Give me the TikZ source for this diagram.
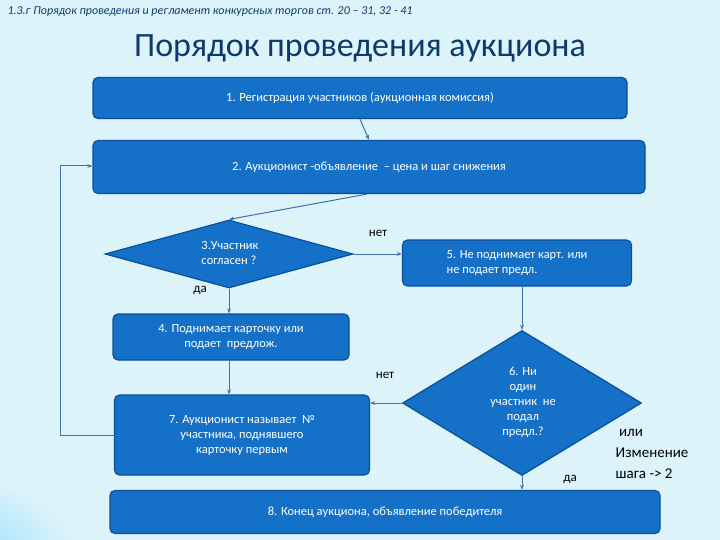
\documentclass[tikz,border=0pt]{standalone}
\usepackage{fontspec}
\setmainfont{Carlito}
\usetikzlibrary{shapes.geometric,arrows.meta}
\definecolor{bg}{HTML}{DDF3FA}
\definecolor{boxf}{HTML}{1570C8}
\definecolor{boxd}{HTML}{0B4F9A}
\definecolor{ttl}{HTML}{0E3A6A}
\begin{document}
\begin{tikzpicture}[x=1pt,y=-1pt,
  blk/.style={draw=boxd,line width=1.2pt,fill=boxf,rounded corners=5pt,text=white,font=\fontsize{12.5}{15}\selectfont,align=center,inner sep=0pt},
  dia/.style={diamond,draw=boxd,line width=1.2pt,fill=boxf,text=white,font=\fontsize{12.5}{15}\selectfont,align=center,inner sep=0pt},
  con/.style={draw=boxd!80,line width=1pt},
  arr/.style={con,-{Stealth[length=5pt]}},
  lab/.style={font=\fontsize{13}{15}\selectfont,text=black}]
\useasboundingbox (0,0) rectangle (720,540);
\shade[top color=bg,bottom color=bg] (0,0) rectangle (720,540);
\shade[inner color=blue!30!cyan!50,outer color=bg] (-80,560) ellipse (160 and 90);
\node[anchor=west,font=\itshape\fontsize{12}{14}\selectfont,text=ttl] (hdr) at (4,12) {1.3.г  Порядок проведения и регламент конкурсных торгов ст. 20 – 31, 32 - 41};
\node[font=\fontsize{34}{38}\selectfont,text=ttl] (title) at (360,48) {Порядок проведения аукциона};
\node[blk,minimum width=534,minimum height=41] (b1) at (360,98) {1. Регистрация участников (аукционная комиссия)};
\node[blk,minimum width=552,minimum height=53] (b2) at (369,167) {2. Аукционист -объявление \ – цена и шаг снижения};
\node[dia,minimum width=248,minimum height=68] (d3) at (229,254) {};
\node[font=\fontsize{12.5}{15}\selectfont,text=white,align=left] (d3t) at (230,253) {3.Участник\\согласен ?};
\node[blk,minimum width=229,minimum height=46,align=left] (b5) at (517,263) {5. Не поднимает карт. или\\не подает предл.};
\node[blk,minimum width=236,minimum height=46] (b4) at (231,337) {4. Поднимает карточку или\\подает \ предлож.};
\node[dia,minimum width=239,minimum height=145] (d6) at (522,403) {};
\node[font=\fontsize{12.5}{15}\selectfont,text=white,align=center] (d6t) at (523,402) {6. Ни\\один\\участник \ не\\подал\\предл.?};
\node[blk,minimum width=255,minimum height=80] (b7) at (242,435) {7. Аукционист называет \ №\\участника, поднявшего\\карточку первым};
\node[blk,minimum width=550,minimum height=43] (b8) at (385,512) {8. Конец аукциона, объявление победителя};
\draw[arr] (b1.south) -- (b2.north);
\draw[arr] ([xshift=-2]b2.south) -- (d3.north);
\draw[arr] (d3.east) -- (b5.west|-d3.east);
\draw[arr] (d3.south) -- (b4.north-|d3.south);
\draw[arr] (b5.south-|d6.north) -- (d6.north);
\draw[arr] (b4.south-|d3.south) -- (b7.north-|d3.south);
\draw[arr] (d6.west) -- (b7.east|-d6.west);
\draw[arr] (d6.south) -- (b8.north-|d6.south);
\coordinate (lp1) at (60,435);
\coordinate (lp2) at (60,166);
\draw[arr] (b7.west|-lp1) -- (lp1) -- (lp2) -- (b2.west|-lp2);
\node[lab] (n1) at (378,233) {нет};
\node[lab] (y1) at (200,290) {да};
\node[lab] (n2) at (385,375) {нет};
\node[lab] (y2) at (570,479) {да};
\node[lab,align=left,font=\fontsize{15}{21}\selectfont] (ili) at (652,454) {\ или\\Изменение\\шага -> 2};
\end{tikzpicture}
\end{document}
